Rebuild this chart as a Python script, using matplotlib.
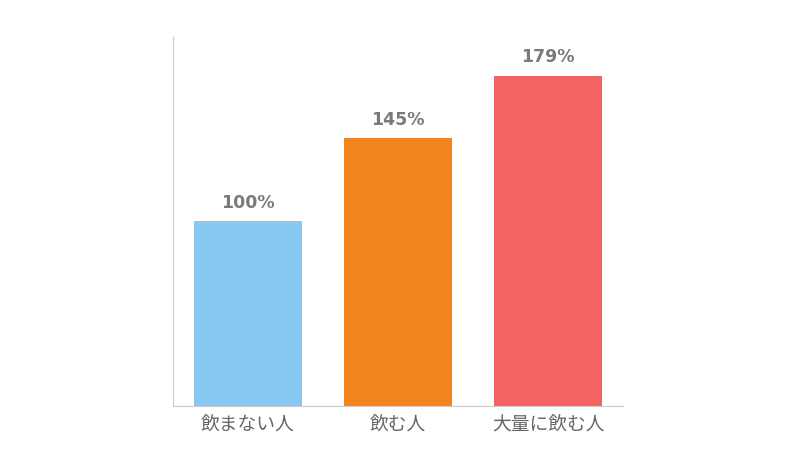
import matplotlib

matplotlib.use("Agg")
from matplotlib import pyplot as plt

plt.rcParams['font.family'] = ['Noto Sans CJK JP', 'DejaVu Sans']

categories = ['飲まない人', '飲む人', '大量に飲む人']
values = [100, 145, 179]
labels = ['100%', '145%', '179%']
colors = ['#88C8F3', '#F2841E', '#F26464']

fig = plt.figure(figsize=(8, 4.5), dpi=100)
ax = fig.add_axes([0.216, 0.098, 0.563, 0.82])

x = range(len(categories))
bars = ax.bar(x, values, width=0.72, color=colors)

for bar, lab in zip(bars, labels):
    ax.text(bar.get_x() + bar.get_width() / 2, bar.get_height() + 5, lab,
            ha='center', va='bottom', fontsize=12.5, fontweight='bold',
            color='#7a7a7a', family=['DejaVu Sans'])

ax.set_xlim(-0.5, 2.5)
ax.set_ylim(0, 200)
ax.set_xticks(list(x))
ax.set_xticklabels(categories, fontsize=13.5, color='#666666')
ax.set_yticks([])
ax.tick_params(axis='x', length=0, pad=6)

for side in ['top', 'right']:
    ax.spines[side].set_visible(False)
ax.spines['left'].set_color('#cccccc')
ax.spines['bottom'].set_color('#cccccc')

fig.savefig('out.png', dpi=100)
